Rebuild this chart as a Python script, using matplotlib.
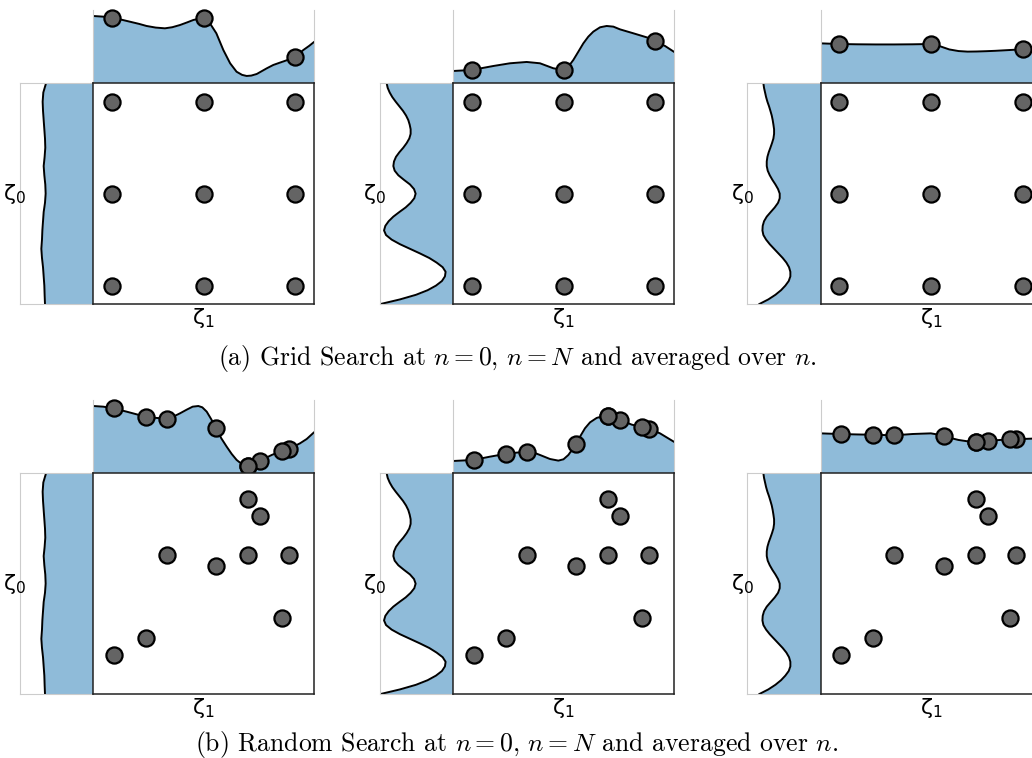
import numpy as np
import matplotlib.pyplot as plt

# ---- marginal curves ----------------------------------------------------
# top marginals (density over zeta_1): x positions and heights (0..1 of the strip)
top_a1_x = [-1.2, -1.1, -0.98, -0.9, -0.8, -0.7, -0.62, -0.52, -0.42, -0.34, -0.256, -0.18, -0.11,
            -0.05, 0.0, 0.04, 0.07, 0.14, 0.216, 0.29, 0.36, 0.42, 0.47, 0.52, 0.58, 0.69, 0.76,
            0.83, 0.92, 1.0, 1.087, 1.15, 1.2]
top_a1_y = [0.918, 0.91, 0.895, 0.87, 0.84, 0.81, 0.782, 0.76, 0.75, 0.765, 0.795, 0.83, 0.864,
            0.88, 0.886, 0.86, 0.818, 0.682, 0.454, 0.273, 0.158, 0.115, 0.10, 0.105, 0.127, 0.205,
            0.25, 0.281, 0.32, 0.363, 0.454, 0.51, 0.56]

top_a2_x = [-1.2, -0.997, -0.764, -0.583, -0.401, -0.256, -0.111, 0.0, 0.053, 0.107, 0.162, 0.216,
            0.27, 0.325, 0.398, 0.47, 0.543, 0.615, 0.761, 0.906, 1.0, 1.106, 1.2]
top_a2_y = [0.168, 0.182, 0.236, 0.273, 0.291, 0.273, 0.205, 0.182, 0.227, 0.318, 0.432, 0.545,
            0.636, 0.705, 0.764, 0.782, 0.773, 0.736, 0.682, 0.627, 0.573, 0.509, 0.432]

top_a3_x = [-1.2, -1.0, -0.8, -0.6, -0.4, -0.2, 0.0, 0.1, 0.2, 0.3, 0.4, 0.5, 0.6, 0.7, 0.8, 0.9,
            1.0, 1.1, 1.2]
top_a3_y = [0.545, 0.536, 0.532, 0.530, 0.530, 0.532, 0.536, 0.505, 0.462, 0.440, 0.432, 0.434,
            0.438, 0.443, 0.450, 0.457, 0.464, 0.468, 0.472]

top_b1_x = [-1.2, -1.091, -0.982, -0.837, -0.634, -0.51, -0.401, -0.329, -0.256, -0.183, -0.118,
            -0.056, -0.013, 0.035, 0.085, 0.136, 0.194, 0.252, 0.307, 0.361, 0.416, 0.47, 0.543,
            0.619, 0.743, 0.862, 0.931, 1.051, 1.124, 1.2]
top_b1_y = [0.918, 0.909, 0.886, 0.841, 0.773, 0.755, 0.745, 0.773, 0.818, 0.868, 0.909, 0.918,
            0.90, 0.841, 0.736, 0.614, 0.477, 0.364, 0.264, 0.182, 0.127, 0.10, 0.127, 0.173,
            0.25, 0.309, 0.332, 0.409, 0.468, 0.555]

top_b2_x = [-1.2, -0.982, -0.8, -0.634, -0.51, -0.401, -0.329, -0.238, -0.147, -0.056, 0.0, 0.053,
            0.136, 0.18, 0.234, 0.289, 0.361, 0.434, 0.488, 0.561, 0.619, 0.743, 0.862, 0.931,
            1.051, 1.2]
top_b2_y = [0.168, 0.182, 0.227, 0.264, 0.282, 0.295, 0.286, 0.241, 0.195, 0.173, 0.191, 0.25,
            0.395, 0.50, 0.614, 0.695, 0.755, 0.782, 0.786, 0.764, 0.727, 0.664, 0.627, 0.605,
            0.545, 0.432]

top_b3_x = [-1.2, -1.0, -0.8, -0.6, -0.4, -0.2, 0.0, 0.1, 0.2, 0.3, 0.4, 0.5, 0.6, 0.7, 0.8, 0.9,
            1.0, 1.1, 1.2]
top_b3_y = [0.545, 0.536, 0.530, 0.525, 0.518, 0.536, 0.545, 0.523, 0.486, 0.455, 0.436, 0.432,
            0.441, 0.450, 0.459, 0.464, 0.468, 0.473, 0.473]

# left marginals (density over zeta_0), same in both rows; heights 0..1 of the strip
left1_pos = [-1.2, -1.1, -1.0, -0.9, -0.8, -0.7, -0.6, -0.5, -0.4, -0.3, -0.2, -0.1, 0.0, 0.1, 0.2,
             0.3, 0.4, 0.5, 0.6, 0.7, 0.8, 0.9, 1.0, 1.1, 1.2]
left1_val = [0.659, 0.664, 0.668, 0.677, 0.686, 0.700, 0.709, 0.700, 0.695, 0.686, 0.677, 0.659,
             0.650, 0.655, 0.668, 0.677, 0.664, 0.655, 0.659, 0.668, 0.677, 0.686, 0.691, 0.682,
             0.645]

left23_pos = [round(-1.2 + 0.05 * i, 2) for i in range(49)]
left2_val = [0.991, 0.727, 0.509, 0.35, 0.236, 0.155, 0.114, 0.105, 0.145, 0.227, 0.327, 0.455,
             0.591, 0.727, 0.841, 0.918, 0.945, 0.927, 0.882, 0.818, 0.736, 0.65, 0.582, 0.532,
             0.514, 0.536, 0.591, 0.673, 0.75, 0.80, 0.818, 0.809, 0.782, 0.736, 0.682, 0.636,
             0.60, 0.582, 0.582, 0.595, 0.614, 0.645, 0.686, 0.736, 0.786, 0.832, 0.868, 0.895,
             0.909]
left3_val = [0.836, 0.714, 0.618, 0.541, 0.482, 0.436, 0.414, 0.414, 0.432, 0.468, 0.518, 0.577,
             0.636, 0.695, 0.745, 0.782, 0.795, 0.791, 0.773, 0.736, 0.682, 0.627, 0.582, 0.559,
             0.559, 0.582, 0.618, 0.659, 0.695, 0.723, 0.736, 0.736, 0.727, 0.709, 0.686, 0.664,
             0.645, 0.636, 0.636, 0.645, 0.655, 0.668, 0.686, 0.705, 0.727, 0.745, 0.759, 0.773,
             0.782]

# ---- sample points --------------------------------------------------------
grid_vals = [-1.0, 0.0, 1.0]
grid_top = [[0.89, 0.886, 0.363], [0.182, 0.182, 0.573], [0.536, 0.536, 0.464]]

rand_z1 = [-0.98, -0.63, -0.40, 0.14, 0.49, 0.62, 0.49, 0.93, 0.86]
rand_z0 = [-0.78, -0.59, 0.31, 0.19, 0.92, 0.74, 0.31, 0.31, -0.37]
rand_top = [
    [0.886, 0.773, 0.745, 0.614, 0.105, 0.173, 0.105, 0.332, 0.309],
    [0.182, 0.264, 0.295, 0.395, 0.785, 0.727, 0.785, 0.605, 0.627],
    [0.532, 0.523, 0.518, 0.509, 0.432, 0.441, 0.432, 0.464, 0.464],
]

captions = [r"(a) Grid Search at $n=0$, $n=N$ and averaged over $n$.",
            r"(b) Random Search at $n=0$, $n=N$ and averaged over $n$."]
caption_y = [358, 744]

tops = [[(top_a1_x, top_a1_y), (top_a2_x, top_a2_y), (top_a3_x, top_a3_y)],
        [(top_b1_x, top_b1_y), (top_b2_x, top_b2_y), (top_b3_x, top_b3_y)]]
lefts = [(left1_pos, left1_val), (left23_pos, left2_val), (left23_pos, left3_val)]

W, H = 1032, 758
fig = plt.figure(figsize=(W / 100, H / 100), dpi=100)

fill_col = '#8fbbd9'
pt_kw = dict(s=135, facecolor='#646464', edgecolor='black', linewidths=1.6, zorder=5, clip_on=False)
light = '#cccccc'


def px_axes(x0, y0, w, h):
    # pixel box (top-left origin) -> figure axes
    return fig.add_axes([x0 / W, 1 - (y0 + h) / H, w / W, h / H])


gx, gy = np.meshgrid(grid_vals, grid_vals)
col_off = [0, 360, 727.4]
row_off = [0, 390]

for r in range(2):
    for c in range(3):
        dx, dy = col_off[c], row_off[r]

        # left marginal
        axl = px_axes(20 + dx, 83.3 + dy, 73.3, 220.7)
        lp, lv = lefts[c]
        axl.fill_betweenx(lp, 0, lv, color=fill_col, lw=0)
        axl.plot(lv, lp, color='black', lw=1.4, solid_joinstyle='round')
        axl.set_xlim(1, 0)
        axl.set_ylim(-1.2, 1.2)
        axl.set_xticks([])
        axl.set_yticks([])
        axl.spines['right'].set_visible(False)
        for s in ['top', 'left', 'bottom']:
            axl.spines[s].set_color(light)
            axl.spines[s].set_linewidth(0.8)
        axl.text(-0.07, 0.5, r'$\mathrm{\zeta}_0$', transform=axl.transAxes, fontsize=16,
                 ha='center', va='center')

        # top marginal
        axt = px_axes(93.3 + dx, 10 + dy, 220.4, 73.3)
        tx, tv = tops[r][c]
        axt.fill_between(tx, 0, tv, color=fill_col, lw=0)
        axt.plot(tx, tv, color='black', lw=1.4, solid_joinstyle='round')
        if r == 0:
            axt.scatter(grid_vals, grid_top[c], **pt_kw)
        else:
            axt.scatter(rand_z1, rand_top[c], **pt_kw)
        axt.set_xlim(-1.2, 1.2)
        axt.set_ylim(0, 1)
        axt.set_xticks([])
        axt.set_yticks([])
        for s in ['top', 'bottom']:
            axt.spines[s].set_visible(False)
        for s in ['left', 'right']:
            axt.spines[s].set_color(light)
            axt.spines[s].set_linewidth(0.8)

        # main scatter
        ax = px_axes(93.3 + dx, 83.3 + dy, 220.4, 220.7)
        if r == 0:
            ax.scatter(gx.ravel(), gy.ravel(), **pt_kw)
        else:
            ax.scatter(rand_z1, rand_z0, **pt_kw)
        ax.set_xlim(-1.2, 1.2)
        ax.set_ylim(-1.2, 1.2)
        ax.set_xticks([])
        ax.set_yticks([])
        for s in ax.spines.values():
            s.set_color('#222222')
            s.set_linewidth(1.1)
        ax.text(0.5, -0.065, r'$\mathrm{\zeta}_1$', transform=ax.transAxes, fontsize=16,
                ha='center', va='center')

    fig.text(517 / W, 1 - caption_y[r] / H, captions[r], family='cmr10',
             math_fontfamily='cm', fontsize=18.5, ha='center', va='center')

fig.savefig('out.png', dpi=100)
